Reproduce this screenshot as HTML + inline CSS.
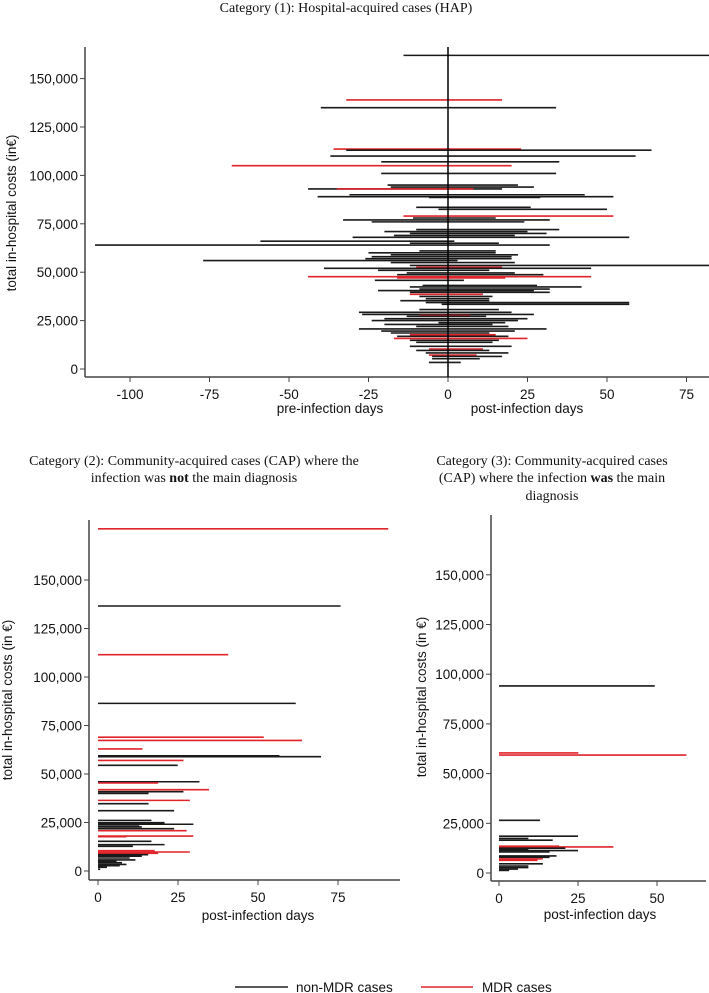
<!DOCTYPE html>
<html><head><meta charset="utf-8">
<style>
html,body{margin:0;padding:0;background:#fff;}
svg{display:block;}
.t{font-family:"Liberation Serif",serif;font-size:14px;fill:#111;}
.s{font-family:"Liberation Sans",sans-serif;font-size:13.5px;fill:#111;}
</style></head>
<body>
<svg id="chart" width="709" height="993" viewBox="0 0 709 993" xmlns="http://www.w3.org/2000/svg">
<text class="t" x="346" y="12" text-anchor="middle">Category (1): Hospital-acquired cases (HAP)</text>
<text class="t" x="194" y="465" text-anchor="middle">Category (2): Community-acquired cases (CAP) where the</text>
<text class="t" x="194" y="482" text-anchor="middle">infection was <tspan font-weight="bold">not</tspan> the main diagnosis</text>
<text class="t" x="552" y="465" text-anchor="middle">Category (3): Community-acquired cases</text>
<text class="t" x="552" y="482" text-anchor="middle">(CAP) where the infection <tspan font-weight="bold">was</tspan> the main</text>
<text class="t" x="552" y="500" text-anchor="middle">diagnosis</text>
<g id="p1"></g>
<g id="p2"></g>
<g id="p3"></g>
<g>
<line x1="235" y1="987" x2="288" y2="987" stroke="#222" stroke-width="1.5"/>
<text class="s" x="296" y="992">non-MDR cases</text>
<line x1="421" y1="987" x2="473" y2="987" stroke="#e0242a" stroke-width="1.5"/>
<text class="s" x="482" y="992">MDR cases</text>
</g>
</svg>
<script>
// Panel 1 (HAP): cost in thousand €, pre-infection start day (negative), post-infection end day, MDR flag
const p1Cost = [162,139,135,113.6,113,110,107,105,101,95,94,93,93,90,89,88.6,83.5,82.5,79,78,77,76,72,71,70,69,68,66,65,64,61,60,59,58,57,56,55,53.5,52.6,52,51,49.6,48.7,47.7,47,45.8,43.2,42.4,41.3,40.5,39.6,38.6,37.5,36.3,35.3,34.3,33.4,30.7,29.3,28.2,27.7,27.2,26,25,23.9,23,22,20.7,19.6,18.6,17.7,16.9,15.8,14.8,13.8,11.7,10.3,9.6,8.3,7.2,6.5,5.3,3.4];
const p1Start = [-14,-32,-40,-36,-32,-37,-21,-68,-21,-19,-18,-44,-35,-31,-41,-6,-10,-3,-14,-11,-33,-24,-10,-20,-12,-17,-30,-59,-12,-111,-9,-25,-18,-24,-26,-77,-18,-12,-10,-39,-22,-13,-16,-44,-16,-23,-8,-12,-9,-22,-12,-12,-9,-7,-15,-7,-2,-9,-28,-27,-9,-13,-20,-24,-3,-20,-10,-28,-21,-18,-12,-16,-17,-12,-10,-12,-6,-10,-7,-6,-5,-5,-6];
const p1End = [85,17,34,23,64,59,35,20,34,22,27,17,8,43,52,29,26,50,52,15,32,24,35,25,31,21,57,2,16,32,15,15,22,20,20,3,21,85,17,45,13,21,30,45,18,5,28,42,32,27,32,11,14,13,13,57,57,16,20,27,7,12,25,22,18,14,19,31,21,13,15,19,25,16,14,20,11,13,19,9,17,10,4];
const p1Mdr = [0,1,0,1,0,0,0,1,0,0,0,0,1,0,0,0,0,0,1,0,0,0,0,0,0,0,0,0,0,0,0,0,0,0,0,0,0,0,1,0,0,0,0,1,1,0,0,0,0,0,0,1,0,0,0,0,0,0,0,0,1,0,0,0,0,0,0,0,0,0,1,0,1,0,0,0,1,0,0,1,0,0,0];
const p1YTicks = [0,25,50,75,100,125,150];
const p1XTicks = [-100,-75,-50,-25,0,25,50,75];

// Panel 2 (CAP, infection not main diagnosis)
const p2Cost = [176.4,136.6,111.5,86.4,69,67.3,62.9,59.4,58.9,57,54.5,46,45.4,41.9,40.9,40,36.4,34.7,31.1,26.1,24.9,24.1,23.2,22.7,21.8,20.8,18,17.7,15.3,13.6,12.7,10.5,9.8,9.1,8.4,7.6,6.7,5.7,5.0,4.3,3.4,2.7,1.9,0.9];
const p2Days = [90.7,75.8,40.7,61.8,51.8,63.8,13.9,56.7,69.7,26.7,24.9,31.7,18.8,34.7,26.7,15.8,28.7,15.8,23.8,16.7,20.8,29.8,12.9,13.7,23.8,27.7,29.8,8.9,16.7,20.8,10.9,17.7,28.7,18.8,15.7,13.7,9.9,11.7,5.8,7.5,8.9,6.8,2.8,0.7];
const p2Mdr = [1,0,1,0,1,1,1,0,0,1,0,0,1,1,0,0,1,0,0,0,0,0,0,0,0,1,1,1,0,0,0,1,1,1,0,0,0,0,0,0,0,0,0,0];
const p2YTicks = [0,25,50,75,100,125,150];
const p2XTicks = [0,25,50,75];

// Panel 3 (CAP, infection main diagnosis)
const p3Cost = [94.1,60.4,59.3,26.5,18.5,17.4,16.5,13.5,13.1,12.5,12,11.3,10.6,8.6,7.9,7.1,6.4,4.6,3.5,2.7,2.0,1.3];
const p3Days = [49.3,25.1,59.3,13,25,9.3,17,19,36.2,21,9.3,25,16,18.2,16,13.9,12.2,13.9,9.3,9.3,6,3.2];
const p3Mdr = [0,1,1,0,0,0,0,1,1,0,0,0,0,0,0,1,1,0,0,0,0,0];
const p3YTicks = [0,25,50,75,100,125,150];
const p3XTicks = [0,25,50];

const NS = 'http://www.w3.org/2000/svg';
function mk(parent, tag, attrs, txt) {
  const e = document.createElementNS(NS, tag);
  for (const k in attrs) e.setAttribute(k, attrs[k]);
  if (txt !== undefined) e.textContent = txt;
  parent.appendChild(e);
  return e;
}
function fmt(v) { return (v * 1000).toLocaleString('en-US'); }

function axes(g, cfg) {
  const ax = mk(g, 'line', {x1: cfg.left, y1: cfg.top, x2: cfg.left, y2: cfg.bottom, stroke: '#444', 'stroke-width': 1.5});
  
  
  const bx = mk(g, 'line', {x1: cfg.left, y1: cfg.bottom, x2: cfg.right, y2: cfg.bottom, stroke: '#444', 'stroke-width': 1.5});
  
  
  cfg.yTicks.forEach(v => {
    const y = cfg.ys(v);
    const tk = mk(g, 'line', {x1: cfg.left - 5, y1: y, x2: cfg.left, y2: y, stroke: '#444', 'stroke-width': 1});
    
    
    const tl = mk(g, 'text', {x: cfg.left - 7, y: y + 5, 'text-anchor': 'end', class: 's'}, fmt(v));
    
    
  });
  cfg.xTicks.forEach(v => {
    const x = cfg.xs(v);
    const tk = mk(g, 'line', {x1: x, y1: cfg.bottom, x2: x, y2: cfg.bottom + 5, stroke: '#444', 'stroke-width': 1});
    
    
    const tl = mk(g, 'text', {x: x, y: cfg.bottom + 22, 'text-anchor': 'middle', class: 's'}, String(v));
    
    
  });
  const yt = mk(g, 'text', {x: 0, y: 0, 'text-anchor': 'middle', class: 's', transform: 'translate(' + cfg.ytx + ',' + cfg.yty + ') rotate(-90)'}, cfg.ytitle);
  
  
}
function seg(g, x1, x2, y, mdr) {
  const l = mk(g, 'line', {x1: x1, y1: y, x2: x2, y2: y, stroke: mdr ? '#e0242a' : '#1a1a1a', 'stroke-width': 1.6});
  
  
}

// Panel 1
(function () {
  const g = document.getElementById('p1');
  const ys = c => 369 - c * 48.4 / 25;
  const xs = d => 448 + d * 3.18;
  const cfg = {left: 85, right: 709, top: 47, bottom: 377, ys, xs, yTicks: p1YTicks, xTicks: p1XTicks, ytx: 16, yty: 213, ytitle: 'total in-hospital costs (in€)'};
  axes(g, cfg);
  const clip = mk(g, 'clipPath', {id: 'c1'});
  mk(clip, 'rect', {x: 86, y: 40, width: 623, height: 336});
  const lg = mk(g, 'g', {'clip-path': 'url(#c1)'});
  
  
  p1Cost.forEach((c, i) => seg(lg, xs(p1Start[i]), xs(p1End[i]), ys(c), p1Mdr[i]));
  const z = mk(g, 'line', {x1: xs(0), y1: 47, x2: xs(0), y2: 377, stroke: '#000', 'stroke-width': 1.5});
  
  
  const a = mk(g, 'text', {x: 330, y: 413, 'text-anchor': 'middle', class: 's'}, 'pre-infection days');
  
  
  const b = mk(g, 'text', {x: 527, y: 413, 'text-anchor': 'middle', class: 's'}, 'post-infection days');
  
  
})();

// Panel 2
(function () {
  const g = document.getElementById('p2');
  const ys = c => 871 - c * 48.5 / 25;
  const xs = d => 98 + d * 3.2;
  axes(g, {left: 89, right: 400, top: 520, bottom: 880, ys, xs, yTicks: p2YTicks, xTicks: p2XTicks, ytx: 12, yty: 700, ytitle: 'total in-hospital costs (in €)'});
  p2Cost.forEach((c, i) => seg(g, xs(0), xs(p2Days[i]), ys(c), p2Mdr[i]));
  const a = mk(g, 'text', {x: 258, y: 920, 'text-anchor': 'middle', class: 's'}, 'post-infection days');
  
  
})();

// Panel 3
(function () {
  const g = document.getElementById('p3');
  const ys = c => 873 - c * 49.7 / 25;
  const xs = d => 499 + d * 3.16;
  axes(g, {left: 491, right: 706, top: 515, bottom: 881, ys, xs, yTicks: p3YTicks, xTicks: p3XTicks, ytx: 426, yty: 697, ytitle: 'total in-hospital costs (in €)'});
  p3Cost.forEach((c, i) => seg(g, xs(0), xs(p3Days[i]), ys(c), p3Mdr[i]));
  const a = mk(g, 'text', {x: 600, y: 919, 'text-anchor': 'middle', class: 's'}, 'post-infection days');
  
  
})();
</script>
</body></html>
